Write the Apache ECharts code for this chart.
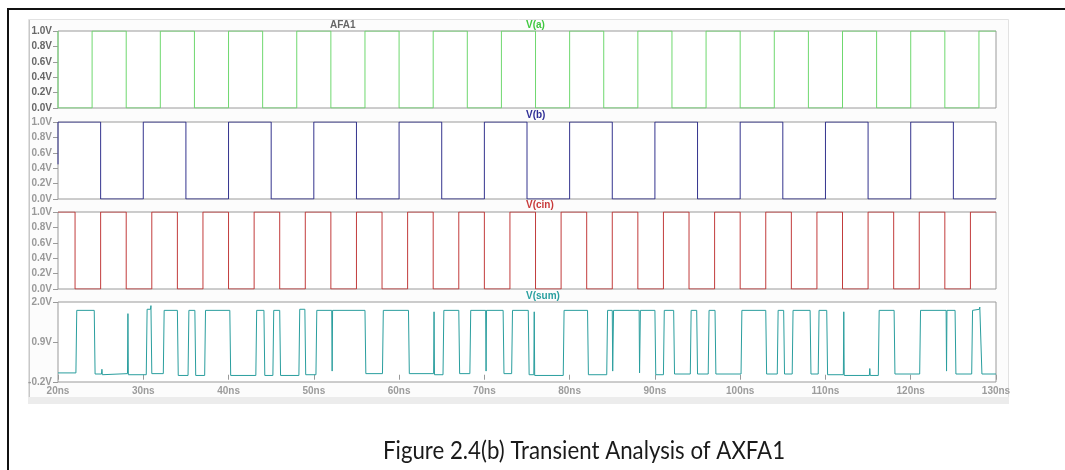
<!DOCTYPE html>
<html>
<head>
<meta charset="utf-8">
<script src="https://cdn.jsdelivr.net/npm/echarts@6/dist/echarts.min.js"></script>
<style>
    html, body { margin: 0; padding: 0; background: #fff; }
    #chart { width: 1065px; height: 470px; }
</style>
</head>
<body>
<div id="chart"></div>
<script>
// time axis (ns)
var xTicks = [20, 30, 40, 50, 60, 70, 80, 90, 100, 110, 120, 130];
var yTicksDigital = [0, 0.2, 0.4, 0.6, 0.8, 1.0];
var yTicksSum = [-0.2, 0.9, 2.0];

// V(a): level before 20ns, then edge times and new levels
var aStart = 1;
var aEdges = [20, 24, 28, 32, 36, 40, 44, 48, 52, 56, 60, 64, 68, 72, 76, 80, 84, 88, 92, 96, 100, 104, 108, 112, 116, 120, 124, 128];
var aLevels = [0, 1, 0, 1, 0, 1, 0, 1, 0, 1, 0, 1, 0, 1, 0, 1, 0, 1, 0, 1, 0, 1, 0, 1, 0, 1, 0, 1];

// V(b)
var bStart = 0.45;
var bEdges = [20, 25, 30, 35, 40, 45, 50, 55, 60, 65, 70, 75, 80, 85, 90, 95, 100, 105, 110, 115, 120, 125];
var bLevels = [1, 0, 1, 0, 1, 0, 1, 0, 1, 0, 1, 0, 1, 0, 1, 0, 1, 0, 1, 0, 1, 0];

// V(cin)
var cStart = 1;
var cEdges = [22, 25, 28, 31, 34, 37, 40, 43, 46, 49, 52, 55, 58, 61, 64, 67, 70, 73, 76, 79, 82, 85, 88, 91, 94, 97, 100, 103, 106, 109, 112, 115, 118, 121, 124, 127];
var cLevels = [0, 1, 0, 1, 0, 1, 0, 1, 0, 1, 0, 1, 0, 1, 0, 1, 0, 1, 0, 1, 0, 1, 0, 1, 0, 1, 0, 1, 0, 1, 0, 1, 0, 1, 0, 1];

// V(sum): [time ns, volts]
var sumPoints = [
    [20, 0.05], [22.1, 0.05], [22.2, 1.77], [24.25, 1.77], [24.35, 0.02],
    [25.1, 0.02], [25.15, 0.15], [25.2, 0.0], [25.3, 0.03],
    [28.15, 0.03], [28.2, 1.68], [28.25, 0.0],
    [30.35, 0.0], [30.45, 1.8], [30.85, 1.8], [30.9, 1.9], [31.0, 0.03],
    [32.35, 0.03], [32.45, 1.77], [34.0, 1.77], [34.1, -0.02],
    [35.25, -0.02], [35.35, 1.77], [36.05, 1.77], [36.15, -0.02],
    [37.2, -0.02], [37.3, 1.77], [40.15, 1.77], [40.25, -0.02],
    [43.2, -0.02], [43.3, 1.77], [44.15, 1.77], [44.25, -0.02],
    [45.2, -0.02], [45.3, 1.77], [46.0, 1.77], [46.1, -0.02],
    [48.25, -0.02], [48.35, 1.8], [48.95, 1.8], [49.05, 0.0],
    [50.25, 0.0], [50.35, 1.77], [52.1, 1.77], [52.15, 0.1], [52.2, 1.77],
    [56.0, 1.77], [56.1, 0.03],
    [58.05, 0.03], [58.15, 1.77], [61.1, 1.77], [61.2, 0.03],
    [64.05, 0.03], [64.1, 1.73], [64.15, 0.0],
    [65.15, 0.0], [65.25, 1.77], [67.0, 1.77], [67.1, 0.03],
    [68.3, 0.03], [68.4, 1.77], [70.15, 1.77], [70.2, 0.1], [70.25, 1.77],
    [72.2, 1.77], [72.3, 0.03],
    [73.2, 0.03], [73.3, 1.77], [75.15, 1.77], [75.25, 0.0],
    [75.8, 0.0], [75.85, 1.73], [75.9, -0.02],
    [79.25, -0.02], [79.35, 1.77], [82.1, 1.77], [82.2, 0.0],
    [84.35, 0.0], [84.45, 1.77], [85.0, 1.77], [85.05, 0.1], [85.15, 1.77],
    [88.15, 1.77], [88.2, 0.05], [88.3, 1.77],
    [90.0, 1.77], [90.1, 0.0],
    [91.0, 0.0], [91.1, 1.77], [92.2, 1.77], [92.3, 0.02],
    [94.15, 0.02], [94.25, 1.77], [94.9, 1.77], [95.0, 0.02],
    [96.25, 0.02], [96.35, 1.77], [97.05, 1.77], [97.15, 0.02],
    [100.1, 0.02], [100.2, 1.77], [103.0, 1.77], [103.1, 0.02],
    [104.35, 0.02], [104.45, 1.77], [105.1, 1.77], [105.2, 0.02],
    [106.1, 0.02], [106.2, 1.77], [108.2, 1.77], [108.3, 0.02],
    [109.15, 0.02], [109.25, 1.77], [110.15, 1.77], [110.25, 0.0],
    [112.1, 0.0], [112.15, 1.73], [112.2, -0.02],
    [115.15, -0.02], [115.2, 0.17], [115.25, -0.02],
    [116.2, -0.02], [116.3, 1.77], [118.05, 1.77], [118.15, 0.02],
    [121.05, 0.02], [121.15, 1.77], [124.15, 1.77], [124.2, 0.1], [124.25, 1.77],
    [125.2, 1.77], [125.3, 0.02],
    [127.15, 0.02], [127.25, 1.77], [128.05, 1.8], [128.1, 1.86], [128.35, 0.02],
    [130, 0.02]
];

var PLOT_LEFT = 58;
var PLOT_WIDTH = 938;
var LABEL_FONT = 'Liberation Sans';

// step data: start level at 20ns, every edge, hold to the end
function stepData(start, edges, levels) {
    var pts = [[xTicks[0], start]];
    for (var i = 0; i < edges.length; i++) {
        pts.push([edges[i], levels[i]]);
    }
    pts.push([xTicks[xTicks.length - 1], levels[levels.length - 1]]);
    return pts;
}

function makeGrid(top, height) {
    return {
        left: PLOT_LEFT,
        top: top,
        width: PLOT_WIDTH,
        height: height,
        show: true,
        backgroundColor: '#ffffff',
        borderColor: '#9a9a9a',
        borderWidth: 1
    };
}

function makeXAxis(idx, showLabels) {
    return {
        type: 'value',
        gridIndex: idx,
        min: xTicks[0],
        max: xTicks[xTicks.length - 1],
        interval: 10,
        axisLine: { show: false },
        splitLine: { show: false },
        axisTick: {
            show: showLabels,
            length: 5,
            lineStyle: { color: '#9a9a9a' }
        },
        axisLabel: {
            show: showLabels,
            margin: 4,
            color: '#9c9c9c',
            fontFamily: LABEL_FONT,
            fontWeight: 'bold',
            fontSize: 10,
            formatter: function(v) {
                return v + 'ns';
            }
        }
    };
}

function makeYAxis(idx, ticks, labelColor) {
    return {
        type: 'value',
        gridIndex: idx,
        min: ticks[0],
        max: ticks[ticks.length - 1],
        axisLine: { show: false },
        splitLine: { show: false },
        axisTick: {
            show: true,
            length: 5,
            customValues: ticks,
            lineStyle: { color: '#9a9a9a' }
        },
        axisLabel: {
            show: true,
            margin: 6,
            customValues: ticks,
            color: labelColor,
            fontFamily: LABEL_FONT,
            fontWeight: 'bold',
            fontSize: 10,
            formatter: function(v) {
                return v.toFixed(1) + 'V';
            }
        }
    };
}

function lineSeries(idx, data, color, step) {
    return {
        type: 'line',
        xAxisIndex: idx,
        yAxisIndex: idx,
        data: data,
        step: step ? 'end' : false,
        showSymbol: false,
        symbol: 'none',
        silent: true,
        lineStyle: { color: color, width: 1 }
    };
}

function traceTitle(text, color, y) {
    return {
        type: 'text',
        left: 526,
        top: y,
        style: {
            text: text,
            fill: color,
            font: 'bold 10px "' + LABEL_FONT + '"',
            align: 'center',
            verticalAlign: 'middle'
        }
    };
}

var chart = echarts.init(document.getElementById('chart'), null, { renderer: 'canvas' });

var option = {
    animation: false,
    backgroundColor: '#ffffff',
    grid: [
        makeGrid(31, 77),
        makeGrid(122, 77),
        makeGrid(212, 77),
        makeGrid(302, 80)
    ],
    xAxis: [
        makeXAxis(0, false),
        makeXAxis(1, false),
        makeXAxis(2, false),
        makeXAxis(3, true)
    ],
    yAxis: [
        makeYAxis(0, yTicksDigital, '#666666'),
        makeYAxis(1, yTicksDigital, '#999999'),
        makeYAxis(2, yTicksDigital, '#999999'),
        makeYAxis(3, yTicksSum, '#999999')
    ],
    series: [
        lineSeries(0, stepData(aStart, aEdges, aLevels), '#6fd86f', true),
        lineSeries(1, stepData(bStart, bEdges, bLevels), '#34348e', true),
        lineSeries(2, stepData(cStart, cEdges, cLevels), '#c23c3c', true),
        lineSeries(3, sumPoints, '#2a9e9e', false)
    ],
    graphic: [
        // page frame (top and left edges)
        { type: 'rect', z: -10, shape: { x: 7, y: 8, width: 1058, height: 2 }, style: { fill: '#111' } },
        { type: 'rect', z: -10, shape: { x: 7, y: 8, width: 2, height: 462 }, style: { fill: '#111' } },
        // simulator window
        { type: 'rect', z: -9, shape: { x: 28.5, y: 19.5, width: 980, height: 378 }, style: { fill: '#fcfcfc', stroke: '#e2e2e2', lineWidth: 1 } },
        { type: 'rect', z: -9, shape: { x: 28, y: 397, width: 981, height: 7 }, style: { fill: '#ececec' } },
        { type: 'line', z: -8, shape: { x1: 29.5, y1: 20, x2: 29.5, y2: 397 }, style: { stroke: '#c8c8c8', lineWidth: 1 } },
        // trace names
        {
            type: 'text',
            left: 330,
            top: 20,
            style: { text: 'AFA1', fill: '#666', font: 'bold 10px "' + LABEL_FONT + '"' }
        },
        traceTitle('V(a)', '#3fc83f', 20),
        traceTitle('V(b)', '#2e2e96', 110),
        traceTitle('V(cin)', '#c83a3a', 200),
        traceTitle('V(sum)', '#2aa0a0', 291),
        // caption (condensed like the original document font)
        {
            type: 'text',
            x: 383,
            y: 438,
            scaleX: 0.89,
            style: {
                text: 'Figure 2.4(b) Transient Analysis of AXFA1',
                fill: '#1a1a1a',
                font: '25px Lato'
            }
        }
    ]
};

chart.setOption(option);
</script>
</body>
</html>
